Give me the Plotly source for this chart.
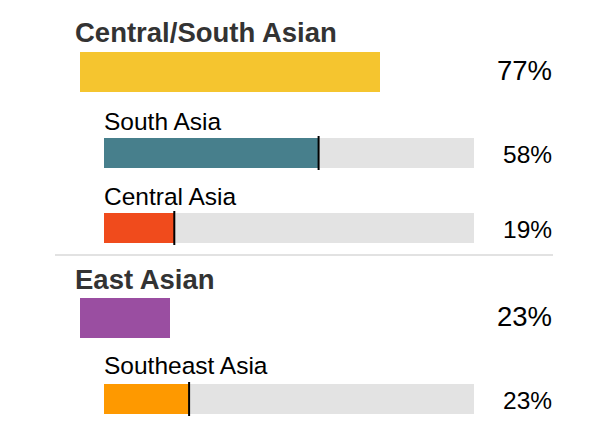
import plotly.graph_objects as go

# ---- data ----
groups = ["Central/South Asian", "East Asian"]
group_values = [77, 23]
subregions = ["South Asia", "Central Asia", "Southeast Asia"]
sub_values = [58, 19, 23]
sub_parent = [0, 0, 1]

# ---- styles ----
group_colors = ["#F5C52F", "#9A4EA1"]
sub_colors = ["#477F8C", "#F04B1C", "#FE9900"]
track_color = "#E3E3E3"
PAGE_W, PAGE_H = 602, 430
OFF = 8  # default body margin of the page
FW, FH = PAGE_W - OFF, PAGE_H - OFF
FONT = "Helvetica Neue, Helvetica, Arial, Liberation Sans, sans-serif"


def px(xpix):
    return (xpix - OFF) / FW


# vertical layout (page pixel rows; y axis maps to page pixels)
group_bar_center = [72, 318]
group_title_center = [32, 279]
sub_bar_center = [153, 228, 399]
sub_label_center = [121, 196, 365]

fig = go.Figure()

for i, g in enumerate(groups):
    fig.add_trace(go.Bar(
        x=[group_values[i]], y=[group_bar_center[i]], base=0, width=40,
        orientation="h", marker=dict(color=group_colors[i], line=dict(width=0)),
        xaxis="x2", yaxis="y", hoverinfo="skip", showlegend=False))

for i, s in enumerate(subregions):
    fig.add_trace(go.Bar(
        x=[100], y=[sub_bar_center[i]], base=0, width=30,
        orientation="h", marker=dict(color=track_color, line=dict(width=0)),
        xaxis="x", yaxis="y", hoverinfo="skip", showlegend=False))
    fig.add_trace(go.Bar(
        x=[sub_values[i]], y=[sub_bar_center[i]], base=0, width=30,
        orientation="h", marker=dict(color=sub_colors[i], line=dict(width=0)),
        xaxis="x", yaxis="y", hoverinfo="skip", showlegend=False))
    fig.add_shape(type="line", xref="x", yref="y",
                  x0=sub_values[i], x1=sub_values[i],
                  y0=sub_bar_center[i] - 17, y1=sub_bar_center[i] + 17,
                  line=dict(color="#000000", width=2))

ann = []
for i, g in enumerate(groups):
    ann.append(dict(text="<b>" + g + "</b>", x=px(73), xref="paper", xanchor="left",
                    y=group_title_center[i], yref="y", yanchor="middle", showarrow=False,
                    font=dict(family=FONT, size=27.5, color="#333333")))
    ann.append(dict(text=f"{group_values[i]}%", x=px(554), xref="paper", xanchor="right",
                    y=group_bar_center[i] - 2, yref="y", yanchor="middle", showarrow=False,
                    font=dict(family=FONT, size=27.5, color="#000000")))
for i, s in enumerate(subregions):
    ann.append(dict(text=s, x=px(102), xref="paper", xanchor="left",
                    y=sub_label_center[i], yref="y", yanchor="middle", showarrow=False,
                    font=dict(family=FONT, size=24.5, color="#000000")))
    ann.append(dict(text=f"{sub_values[i]}%", x=px(554), xref="paper", xanchor="right",
                    y=sub_bar_center[i] + 1, yref="y", yanchor="middle", showarrow=False,
                    font=dict(family=FONT, size=24.5, color="#000000")))

# separator between groups
fig.add_shape(type="line", xref="paper", yref="y", x0=px(55), x1=px(553), y0=255, y1=255,
              line=dict(color="#E2E2E2", width=2))

fig.update_layout(
    width=FW, height=FH,
    margin=dict(l=0, r=0, t=0, b=0),
    paper_bgcolor="white", plot_bgcolor="rgba(0,0,0,0)",
    barmode="overlay", bargap=0,
    annotations=ann,
    xaxis=dict(domain=[px(104), px(474)], range=[0, 100], visible=False, fixedrange=True,
               anchor="y"),
    xaxis2=dict(domain=[px(80), px(470)], range=[0, 100], visible=False,
                anchor="y", fixedrange=True),
    yaxis=dict(domain=[0, 1], range=[PAGE_H, OFF], visible=False, fixedrange=True),
    showlegend=False,
)
fig.write_html("out.html")
